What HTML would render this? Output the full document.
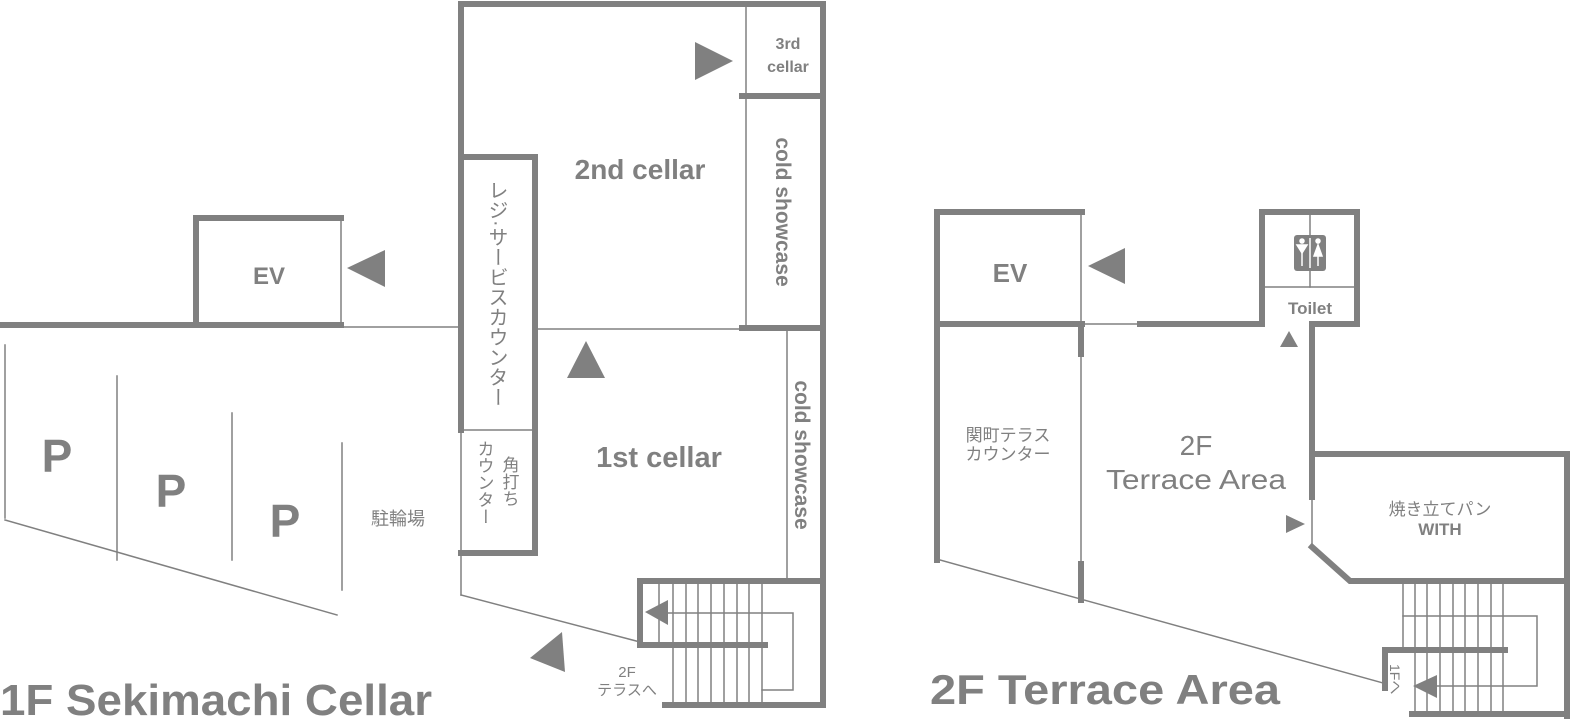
<!DOCTYPE html>
<html><head><meta charset="utf-8"><style>
html,body{margin:0;padding:0;background:#fff;}
svg{display:block;}
text{font-family:"Liberation Sans","Noto Sans CJK JP",sans-serif;fill:#808080;}
.b{font-weight:bold;}
</style></head><body>
<svg width="1572" height="719" viewBox="0 0 1572 719" xmlns="http://www.w3.org/2000/svg">
<g stroke="#808080" fill="none" stroke-linecap="square">
<g stroke-width="6">
<polyline points="0,325 196,325 196,218 341,218"/>
<line x1="196" y1="325" x2="341" y2="325"/>
<polyline points="461,155 461,4 823,4 823,705"/>
<line x1="742" y1="96" x2="823" y2="96"/>
<line x1="742" y1="328" x2="823" y2="328"/>
<polyline points="461,430 461,157 535,157 535,553 461,553"/>
<polyline points="640,642 640,581 823,581"/>
<line x1="640" y1="645" x2="765" y2="645"/>
<line x1="665" y1="705" x2="823" y2="705"/>
</g>
<g stroke-width="1.5">
<line x1="341" y1="218" x2="341" y2="325"/>
<line x1="341" y1="327" x2="458" y2="327"/>
<line x1="746" y1="4" x2="746" y2="328"/>
<line x1="537" y1="329" x2="742" y2="329"/>
<line x1="461" y1="430" x2="535" y2="430"/>
<line x1="461" y1="430" x2="461" y2="595"/>
<line x1="461" y1="595" x2="640" y2="642"/>
<line x1="787" y1="330" x2="787" y2="580"/>
<polyline points="660,613 793,613 793,690 762,690"/>
<path d="M659 584V645M673 584V705M686 584V705M698 584V705M711 584V705M724 584V705M737 584V705M749 584V705M762 584V705"/>
<line x1="5" y1="345" x2="5" y2="518"/>
<line x1="117" y1="376" x2="117" y2="560"/>
<line x1="232" y1="413" x2="232" y2="560"/>
<line x1="342" y1="443" x2="342" y2="590"/>
<line x1="5" y1="520" x2="337" y2="615"/>
</g>
<g stroke-width="6">
<polyline points="937,560 937,212 1082,212"/>
<line x1="937" y1="324" x2="1082" y2="324"/>
<line x1="1081" y1="324" x2="1081" y2="354"/>
<line x1="1081" y1="564" x2="1081" y2="600"/>
<polyline points="1140,324 1262,324 1262,212 1357,212 1357,324 1312,324 1312,497"/>
<polyline points="1312,454 1567,454 1567,719"/>
<polyline points="1312,547 1350,581 1567,581"/>
<polyline points="1385,688 1385,650 1505,650"/>
<line x1="1412" y1="714" x2="1567" y2="714"/>
</g>
<g stroke-width="1.5">
<line x1="1081" y1="212" x2="1081" y2="600"/>
<line x1="1082" y1="324" x2="1140" y2="324"/>
<line x1="1312" y1="497" x2="1312" y2="547"/>
<line x1="1310" y1="214" x2="1310" y2="287"/>
<line x1="1262" y1="287" x2="1357" y2="287"/>
<line x1="940" y1="560" x2="1383" y2="683"/>
<polyline points="1403,616 1537,616 1537,686 1415,686"/>
<path d="M1403 584V650M1415 584V714M1427 584V714M1440 584V714M1453 584V714M1465 584V714M1478 584V714M1491 584V714M1503 584V714"/>
</g>
</g>
<g fill="#808080">
<polygon points="347,268 385,250 385,287"/>
<polygon points="695,42 733,61 695,80"/>
<polygon points="567,378 586,341 605,378"/>
<polygon points="530,658 562,632 565,672"/>
<polygon points="645,612 668,600 668,625"/>
<polygon points="1088,266 1125,248 1125,284"/>
<polygon points="1280,347 1289,331 1298,347"/>
<polygon points="1286,515 1305,524 1286,533"/>
<polygon points="1413,686 1437,675 1437,698"/>
<rect x="1294" y="235" width="32" height="36" rx="3"/>
</g>
<g stroke="#fff" stroke-width="1.5" fill="#fff">
<line x1="1310" y1="238" x2="1310" y2="268"/>
<circle cx="1302" cy="241" r="2"/><circle cx="1318" cy="241" r="2"/>
<polygon points="1297,245 1307,245 1302,253"/><line x1="1302" y1="252" x2="1302" y2="266"/>
<polygon points="1318,245 1314,256 1322,256"/><line x1="1318" y1="255" x2="1318" y2="266"/>
</g>
<text x="269" y="284" font-size="24" class="b" text-anchor="middle">EV</text>
<text x="640" y="179" font-size="28" class="b" text-anchor="middle">2nd cellar</text>
<text x="659" y="467" font-size="29" class="b" text-anchor="middle">1st cellar</text>
<text x="788" y="49" font-size="16" class="b" text-anchor="middle">3rd</text>
<text x="788" y="72" font-size="16" class="b" text-anchor="middle">cellar</text>
<text transform="translate(776,212) rotate(90)" font-size="21" class="b" text-anchor="middle">cold showcase</text>
<text transform="translate(795,455) rotate(90)" font-size="21" class="b" text-anchor="middle">cold showcase</text>
<text x="496" y="180" font-size="20" style="writing-mode:vertical-rl">レジ·サービスカウンター</text>
<text x="484" y="440" font-size="17" style="writing-mode:vertical-rl">カウンター</text>
<text x="509" y="456" font-size="17" style="writing-mode:vertical-rl">角打ち</text>
<text x="627" y="677" font-size="15" text-anchor="middle">2F</text>
<text x="627" y="695" font-size="15" text-anchor="middle">テラスへ</text>
<text x="57" y="472" font-size="46" class="b" text-anchor="middle">P</text>
<text x="171" y="507" font-size="46" class="b" text-anchor="middle">P</text>
<text x="285" y="537" font-size="46" class="b" text-anchor="middle">P</text>
<text x="398" y="525" font-size="18" text-anchor="middle">駐輪場</text>
<text x="0" y="715" font-size="44" class="b" textLength="432" lengthAdjust="spacingAndGlyphs">1F Sekimachi Cellar</text>
<text x="1010" y="282" font-size="26" class="b" text-anchor="middle">EV</text>
<text x="1008" y="441" font-size="17" text-anchor="middle">関町テラス</text>
<text x="1008" y="460" font-size="17" text-anchor="middle">カウンター</text>
<text x="1196" y="455" font-size="28" text-anchor="middle">2F</text>
<text x="1106" y="489" font-size="28" textLength="180" lengthAdjust="spacingAndGlyphs">Terrace Area</text>
<text x="1440" y="515" font-size="17" text-anchor="middle">焼き立てパン</text>
<text x="1440" y="535" font-size="17" class="b" text-anchor="middle">WITH</text>
<text x="1310" y="314" font-size="17" class="b" text-anchor="middle">Toilet</text>
<text transform="translate(1390,664) rotate(90)" font-size="14">1Fへ</text>
<text x="930" y="704" font-size="42" class="b" textLength="350" lengthAdjust="spacingAndGlyphs">2F Terrace Area</text>
</svg>
</body></html>
